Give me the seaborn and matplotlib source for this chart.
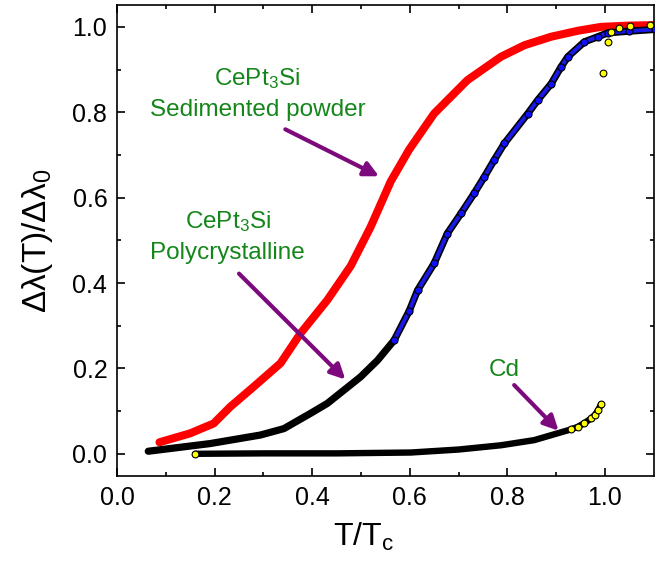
import matplotlib
matplotlib.use('Agg')
import matplotlib.pyplot as plt
import seaborn as sns
import pandas as pd

# values
red_t = [0.087, 0.150, 0.198, 0.232, 0.280, 0.335, 0.376, 0.431, 0.479, 0.520,
         0.561, 0.599, 0.650, 0.684, 0.718, 0.753, 0.787, 0.835, 0.890, 0.945,
         0.992, 1.050, 1.100]
red_y = [0.027, 0.048, 0.071, 0.110, 0.157, 0.212, 0.282, 0.360, 0.440, 0.532,
         0.638, 0.713, 0.797, 0.836, 0.875, 0.903, 0.930, 0.957, 0.977, 0.991,
         1.000, 1.003, 1.004]

poly_t = [0.064, 0.191, 0.294, 0.342, 0.397, 0.431, 0.465, 0.499, 0.534, 0.568,
          0.599, 0.616, 0.650, 0.677, 0.705, 0.732, 0.753, 0.773, 0.794, 0.842,
          0.862, 0.890, 0.910, 0.924, 0.958, 0.986, 1.006, 1.050, 1.102]
poly_y = [0.006, 0.024, 0.044, 0.059, 0.095, 0.118, 0.149, 0.180, 0.219, 0.266,
          0.335, 0.383, 0.446, 0.516, 0.563, 0.610, 0.649, 0.688, 0.727, 0.797,
          0.828, 0.867, 0.906, 0.930, 0.965, 0.977, 0.986, 0.990, 0.994]

cd_t = [0.160, 0.300, 0.450, 0.602, 0.700, 0.787, 0.855, 0.903, 0.930, 0.944,
        0.958, 0.972, 0.980, 0.986, 0.992]
cd_y = [0.000, 0.001, 0.001, 0.003, 0.010, 0.020, 0.032, 0.048, 0.057, 0.063,
        0.072, 0.083, 0.092, 0.102, 0.116]

cd_tail_t = [0.997, 1.006, 1.013, 1.028, 1.051, 1.092]
cd_tail_y = [0.893, 0.965, 0.988, 0.998, 1.002, 1.004]

x_ticks = [0.0, 0.2, 0.4, 0.6, 0.8, 1.0]
y_ticks = [0.0, 0.2, 0.4, 0.6, 0.8, 1.0]

red = pd.DataFrame({'t': red_t, 'y': red_y})
poly = pd.DataFrame({'t': poly_t, 'y': poly_y})
cd = pd.DataFrame({'t': cd_t, 'y': cd_y})
cd_tail = pd.DataFrame({'t': cd_tail_t, 'y': cd_tail_y})

sns.set_style('ticks')
plt.rcParams['font.family'] = ['Liberation Sans', 'DejaVu Sans']
plt.rcParams['mathtext.fontset'] = 'custom'
plt.rcParams['mathtext.rm'] = 'Liberation Sans'
plt.rcParams['mathtext.default'] = 'regular'
plt.rcParams['text.color'] = 'black'
plt.rcParams['axes.labelcolor'] = 'black'
plt.rcParams['xtick.color'] = 'black'
plt.rcParams['ytick.color'] = 'black'

fig = plt.figure(figsize=(6.65, 5.66), dpi=100)
ax = fig.add_axes([0.176, 0.159, 0.807, 0.832])

green = '#14861a'
purple = '#7d0a7d'
line_kw = dict(sort=False, estimator=None, solid_joinstyle='round', solid_capstyle='round')

# sedimented powder
sns.lineplot(data=red, x='t', y='y', color='#ff0000', lw=5.8, ax=ax, zorder=2, **line_kw)
# polycrystalline: black body, blue circles on the upper part
sns.lineplot(data=poly, x='t', y='y', color='black', lw=5.2, ax=ax, zorder=3, **line_kw)
upper = poly[poly['t'] >= 0.55]
sns.lineplot(data=upper, x='t', y='y', color='#1a1ae6', lw=2.8, ax=ax, zorder=4, **line_kw)
sns.scatterplot(data=upper, x='t', y='y', color='#1010ff', edgecolor='black',
                linewidth=0.8, s=26, ax=ax, zorder=5)
# Cd
sns.lineplot(data=cd, x='t', y='y', color='black', lw=4.6, ax=ax, zorder=6, **line_kw)
cd_pts = pd.concat([cd.iloc[[0]], cd[cd['t'] >= 0.93], cd_tail])
sns.scatterplot(data=cd_pts, x='t', y='y', color='#ffff00', edgecolor='black',
                linewidth=0.8, s=24, ax=ax, zorder=7)

ax.set_xlim(0, 1.1)
ax.set_ylim(-0.052, 1.051)
ax.set_xticks(x_ticks)
ax.set_yticks(y_ticks)
ax.set_xticklabels([f'{v:.1f}' for v in x_ticks])
ax.set_yticklabels([f'{v:.1f}' for v in y_ticks])
ax.set_xticks([0.1, 0.3, 0.5, 0.7, 0.9], minor=True)
ax.set_yticks([0.1, 0.3, 0.5, 0.7, 0.9], minor=True)
ax.tick_params(which='both', direction='in', top=True, right=True, width=1.2,
               labelsize=18, pad=7, colors='black')
ax.tick_params(which='major', length=6)
ax.tick_params(which='minor', length=3)
for s in ax.spines.values():
    s.set_linewidth(1.2)
    s.set_color('black')

ax.set_xlabel('T/T$_c$', fontsize=23)
ax.set_ylabel('Δλ(T)/Δλ$_0$', fontsize=24)
ax.xaxis.set_label_coords(0.46, -0.095)
ax.yaxis.set_label_coords(-0.115, 0.5)

# annotations
ax.text(0.288, 0.879, 'CePt$_3$Si', color=green, fontsize=17.5, ha='center', va='center')
ax.text(0.288, 0.805, 'Sedimented powder', color=green, fontsize=17.5, ha='center', va='center')
ax.text(0.227, 0.543, 'CePt$_3$Si', color=green, fontsize=17.5, ha='center', va='center')
ax.text(0.227, 0.470, 'Polycrystalline', color=green, fontsize=17.5, ha='center', va='center')
ax.text(0.794, 0.196, 'Cd', color=green, fontsize=17.5, ha='center', va='center')

arrow = dict(arrowstyle='-|>', color=purple, lw=3, mutation_scale=22, shrinkA=0, shrinkB=0)
ax.annotate('', xy=(0.537, 0.650), xytext=(0.345, 0.760), arrowprops=arrow)
ax.annotate('', xy=(0.468, 0.174), xytext=(0.250, 0.422), arrowprops=arrow)
ax.annotate('', xy=(0.905, 0.054), xytext=(0.814, 0.161), arrowprops=arrow)

fig.savefig('out.png', dpi=100)
